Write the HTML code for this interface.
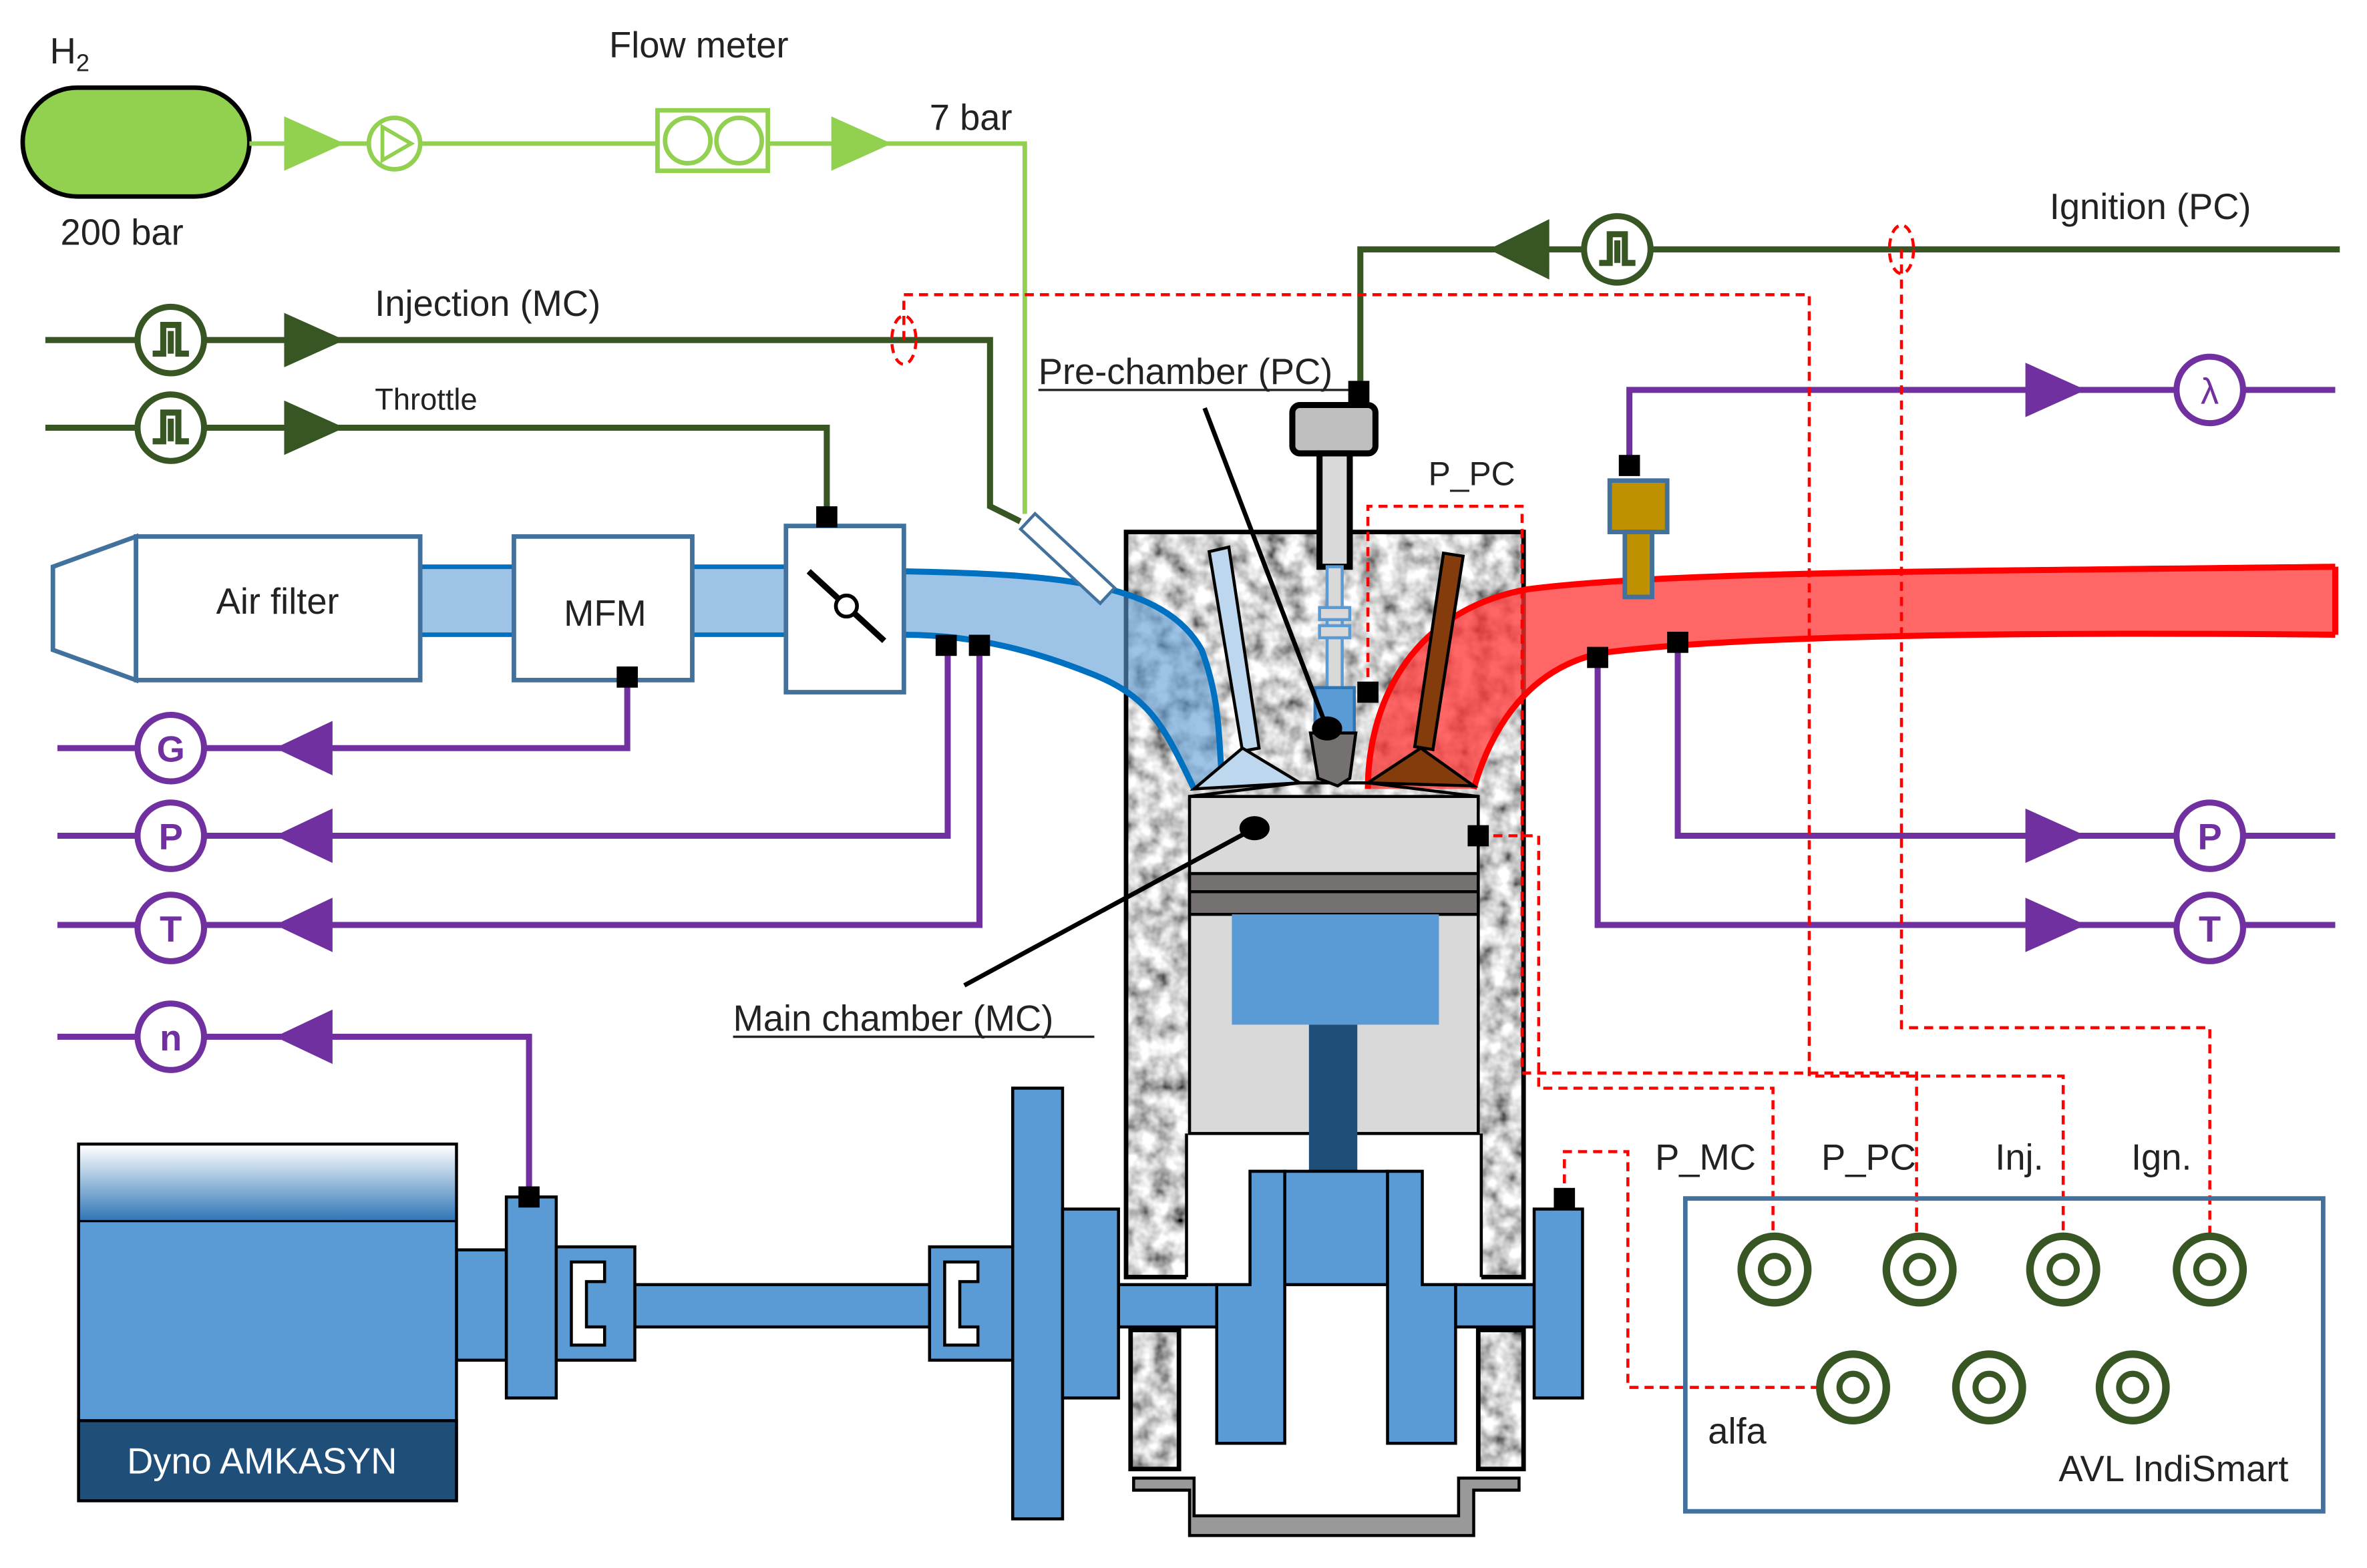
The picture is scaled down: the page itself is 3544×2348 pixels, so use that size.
<!DOCTYPE html>
<html><head><meta charset="utf-8"><style>
html,body{margin:0;padding:0;background:#fff}
svg{display:block}
text{font-family:"Liberation Sans",sans-serif;fill:#222}
</style></head><body>
<svg width="3544" height="2348" viewBox="0 0 1566 1037.5" preserveAspectRatio="none" xmlns="http://www.w3.org/2000/svg">
<defs>
<filter id="n" x="0" y="0" width="1" height="1">
<feTurbulence type="fractalNoise" baseFrequency="0.08" numOctaves="3" seed="3"/>
<feColorMatrix type="matrix" values="1.7 0 0 0 -0.2  1.7 0 0 0 -0.2  1.7 0 0 0 -0.2  0 0 0 0 1"/>
</filter>
<linearGradient id="dg" x1="0" y1="0" x2="0" y2="1"><stop offset="0" stop-color="#fff"/><stop offset="1" stop-color="#2e75b6"/></linearGradient>
<g id="pulse"><circle r="22" fill="#fff" stroke="#375623" stroke-width="4"/><path d="M-12,9 H-5 V-10 H5 V9 H12 M0,-6 V9" fill="none" stroke="#375623" stroke-width="4"/></g>
<g id="avl"><circle r="22" fill="#fff" stroke="#375623" stroke-width="5"/><circle r="9" fill="none" stroke="#375623" stroke-width="4"/></g>
</defs>

<!-- H2 supply -->
<text x="33" y="42" font-size="24">H<tspan font-size="16" dy="5">2</tspan></text>
<rect x="15" y="58" width="150" height="72" rx="36" fill="#92d050" stroke="#000" stroke-width="3"/>
<text x="40" y="162" font-size="24">200 bar</text>
<path d="M165,95 H678 V340" fill="none" stroke="#92d050" stroke-width="3"/>
<polygon points="188,77 228,95 188,113" fill="#92d050"/>
<circle cx="261" cy="95" r="17" fill="#fff" stroke="#92d050" stroke-width="3"/>
<polygon points="253,84 272,95 253,106" fill="none" stroke="#92d050" stroke-width="2.5"/>
<text x="403" y="38" font-size="24">Flow meter</text>
<rect x="435" y="73" width="73" height="40" fill="#fff" stroke="#92d050" stroke-width="3"/>
<circle cx="455" cy="93" r="15" fill="none" stroke="#92d050" stroke-width="3"/>
<circle cx="489" cy="93" r="15" fill="none" stroke="#92d050" stroke-width="3"/>
<polygon points="550,77 590,95 550,113" fill="#92d050"/>
<text x="615" y="86" font-size="24">7 bar</text>

<!-- ignition -->
<path d="M1548,165 H900 V258" fill="none" stroke="#375623" stroke-width="4"/>
<polygon points="1025,145 985,165 1025,185" fill="#375623"/>
<use href="#pulse" x="1070" y="165"/>
<text x="1356" y="145" font-size="24">Ignition (PC)</text>
<!-- injection -->
<path d="M30,225 H655 V335 L675,345" fill="none" stroke="#375623" stroke-width="4"/>
<use href="#pulse" x="113" y="225"/>
<polygon points="188,207 228,225 188,243" fill="#375623"/>
<text x="248" y="209" font-size="24">Injection (MC)</text>
<!-- throttle -->
<path d="M30,283 H547 V340" fill="none" stroke="#375623" stroke-width="4"/>
<use href="#pulse" x="113" y="283"/>
<polygon points="188,265 228,283 188,301" fill="#375623"/>
<text x="248" y="271" font-size="20">Throttle</text>

<!-- purple lines -->
<g fill="none" stroke="#7030a0" stroke-width="4">
<path d="M1078,310 V258 H1545"/>
<path d="M38,495 H415 V448"/>
<path d="M38,553 H627 V427"/>
<path d="M38,612 H648 V427"/>
<path d="M38,686 H350 V792"/>
<path d="M1110,425 V553 H1545"/>
<path d="M1057,435 V612 H1545"/>
</g>
<g fill="#7030a0">
<polygon points="1340,240 1380,258 1340,276"/>
<polygon points="220,477 182,495 220,513"/>
<polygon points="220,535 182,553 220,571"/>
<polygon points="220,594 182,612 220,630"/>
<polygon points="220,668 182,686 220,704"/>
<polygon points="1340,535 1380,553 1340,571"/>
<polygon points="1340,594 1380,612 1340,630"/>
</g>
<g fill="#fff" stroke="#7030a0" stroke-width="4">
<circle cx="1462" cy="258" r="22"/><circle cx="113" cy="495" r="22"/><circle cx="113" cy="553" r="22"/>
<circle cx="113" cy="614" r="22"/><circle cx="113" cy="686" r="22"/><circle cx="1462" cy="553" r="22"/><circle cx="1462" cy="614" r="22"/>
</g>
<g font-size="24" font-weight="bold" text-anchor="middle">
<text x="1462" y="267" style="fill:#7030a0" font-weight="normal">λ</text>
<text x="113" y="504" style="fill:#7030a0">G</text><text x="113" y="562" style="fill:#7030a0">P</text>
<text x="113" y="623" style="fill:#7030a0">T</text><text x="113" y="695" style="fill:#7030a0">n</text>
<text x="1462" y="562" style="fill:#7030a0">P</text><text x="1462" y="623" style="fill:#7030a0">T</text>
</g>

<!-- engine block -->
<rect x="745" y="352" width="263" height="493" filter="url(#n)"/>
<rect x="745" y="352" width="263" height="493" fill="none" stroke="#000" stroke-width="3"/>
<rect x="785" y="750" width="195" height="97" fill="#fff"/>
<path d="M785,845 V750 M980,750 V845" stroke="#000" stroke-width="2"/>
<rect x="748" y="880" width="32" height="92" filter="url(#n)"/>
<rect x="748" y="880" width="32" height="92" fill="none" stroke="#000" stroke-width="3"/>
<rect x="978" y="880" width="30" height="92" filter="url(#n)"/>
<rect x="978" y="880" width="30" height="92" fill="none" stroke="#000" stroke-width="3"/>
<path d="M750,978 H790 V1003 H965 V978 H1005 V986 H975 V1016 H787 V986 H750 Z" fill="#999" stroke="#000" stroke-width="2"/>

<!-- intake ducts -->
<path d="M278,375 H340 V420 H278 Z M458,375 H520 V420 H458 Z" fill="#9dc3e6"/>
<path d="M278,375 H340 M278,420 H340 M458,375 H520 M458,420 H520" stroke="#0070c0" stroke-width="3"/>
<path d="M598,378 C700,380 770,385 795,430 C810,470 805,500 810,522 L790,522 C770,480 760,460 720,445 C670,425 630,420 598,420 Z" fill="#5b9bd5" fill-opacity="0.6"/>
<path d="M598,378 C700,380 770,385 795,430 C810,470 805,500 810,522 M598,420 C630,420 670,425 720,445 C760,460 770,480 790,522" fill="none" stroke="#0070c0" stroke-width="4"/>
<!-- exhaust -->
<path d="M1545,375 C1300,378 1100,378 1010,390 C930,405 905,470 905,522 L975,522 C990,470 1020,440 1060,432 C1150,420 1350,418 1545,420 Z" fill="#ff3333" fill-opacity="0.75"/>
<path d="M1545,375 C1300,378 1100,378 1010,390 C930,405 905,470 905,522 M975,522 C990,470 1020,440 1060,432 C1150,420 1350,418 1545,420 M1545,375 V420" fill="none" stroke="#ff0000" stroke-width="4"/>

<!-- air filter, MFM, throttle -->
<polygon points="35,375 90,355 90,450 35,430" fill="#fff" stroke="#41719c" stroke-width="3"/>
<rect x="90" y="355" width="188" height="95" fill="#fff" stroke="#41719c" stroke-width="3"/>
<text x="143" y="406" font-size="24">Air filter</text>
<rect x="340" y="355" width="118" height="95" fill="#fff" stroke="#41719c" stroke-width="3"/>
<text x="373" y="414" font-size="24">MFM</text>
<rect x="520" y="348" width="78" height="110" fill="#fff" stroke="#41719c" stroke-width="3"/>
<line x1="535" y1="378" x2="585" y2="424" stroke="#000" stroke-width="4"/>
<circle cx="560" cy="401" r="7" fill="#fff" stroke="#000" stroke-width="2.5"/>
<!-- injector -->
<g transform="translate(680,345) rotate(43)"><rect x="0" y="-7" width="72" height="14" fill="#fff" stroke="#41719c" stroke-width="2"/></g>

<!-- piston -->
<rect x="787" y="527" width="191" height="223" fill="#d9d9d9" stroke="#000" stroke-width="2"/>
<rect x="787" y="578" width="191" height="27" fill="#767171" stroke="#000" stroke-width="2"/>
<line x1="787" y1="590" x2="978" y2="590" stroke="#000" stroke-width="2"/>
<rect x="815" y="605" width="137" height="73" fill="#5b9bd5"/>
<rect x="866" y="678" width="32" height="97" fill="#1f4e79"/>
<path d="M787,527 L860,518 H905 L978,527" fill="none" stroke="#000" stroke-width="2"/>

<!-- valves -->
<polygon points="800,365 813,362 833,495 822,497" fill="#bdd7ee" stroke="#000" stroke-width="2"/>
<polygon points="790,522 822,495 860,518" fill="#bdd7ee" stroke="#000" stroke-width="2"/>
<polygon points="955,366 968,368 948,496 936,494" fill="#843c0c" stroke="#000" stroke-width="2"/>
<polygon points="905,518 940,495 975,520" fill="#843c0c" stroke="#000" stroke-width="2"/>
<!-- pre-chamber / plug -->
<rect x="855" y="268" width="55" height="32" rx="5" fill="#bfbfbf" stroke="#000" stroke-width="4"/>
<rect x="873" y="300" width="20" height="75" fill="#d9d9d9" stroke="#000" stroke-width="4"/>
<rect x="878" y="375" width="10" height="80" fill="#d9d9d9" stroke="#5b9bd5" stroke-width="2"/>
<rect x="873" y="402" width="20" height="8" fill="#d9d9d9" stroke="#5b9bd5" stroke-width="2"/>
<rect x="873" y="414" width="20" height="8" fill="#d9d9d9" stroke="#5b9bd5" stroke-width="2"/>
<rect x="870" y="455" width="26" height="30" fill="#5b9bd5" stroke="#2e75b6" stroke-width="2"/>
<polygon points="867,485 897,485 893,515 885,520 872,515" fill="#767171" stroke="#000" stroke-width="2"/>

<!-- leaders -->
<line x1="797" y1="270" x2="878" y2="482" stroke="#000" stroke-width="3"/>
<ellipse cx="878" cy="482" rx="10" ry="8"/>
<line x1="638" y1="652" x2="830" y2="548" stroke="#000" stroke-width="3"/>
<ellipse cx="830" cy="548" rx="10" ry="8"/>
<text x="687" y="254" font-size="24">Pre-chamber (PC)</text>
<line x1="687" y1="258" x2="893" y2="258" stroke="#222" stroke-width="1.5"/>
<text x="485" y="682" font-size="24">Main chamber (MC)</text>
<line x1="485" y1="686" x2="724" y2="686" stroke="#222" stroke-width="1.5"/>
<text x="945" y="321" font-size="22">P_PC</text>

<!-- crank train -->
<g fill="#5b9bd5" stroke="#000" stroke-width="2">
<rect x="420" y="850" width="195" height="28"/>
<rect x="740" y="850" width="65" height="28"/>
<rect x="963" y="850" width="52" height="28"/>
<rect x="850" y="775" width="68" height="75"/>
<path d="M827,775 H850 V955 H805 V850 H827 Z"/>
<path d="M918,775 H941 V850 H963 V955 H918 Z"/>
<rect x="302" y="827" width="33" height="73"/>
<rect x="335" y="792" width="33" height="133"/>
<rect x="368" y="825" width="52" height="75"/>
<rect x="615" y="825" width="55" height="75"/>
<rect x="670" y="720" width="33" height="285"/>
<rect x="703" y="800" width="37" height="125"/>
<rect x="1015" y="800" width="32" height="125"/>
</g>
<path d="M378,835 H400 V848 H388 V878 H400 V890 H378 Z M625,835 H647 V848 H635 V878 H647 V890 H625 Z" fill="#fff" stroke="#000" stroke-width="2"/>

<!-- dyno -->
<rect x="52" y="757" width="250" height="236" fill="#5b9bd5" stroke="#000" stroke-width="2"/>
<rect x="53" y="758" width="248" height="50" fill="url(#dg)"/>
<line x1="52" y1="808" x2="302" y2="808" stroke="#000" stroke-width="1.5"/>
<rect x="52" y="940" width="250" height="53" fill="#1f4e79" stroke="#000" stroke-width="2"/>
<text x="84" y="975" font-size="24" style="fill:#fff">Dyno AMKASYN</text>

<!-- red dashed signals -->
<g fill="none" stroke="#ff0000" stroke-width="2" stroke-dasharray="6,4">
<path d="M905,458 V335 H1007 V710 H1268 V830"/>
<path d="M978,553 H1018 V720 H1173 V830"/>
<path d="M598,225 V195 H1197 V712 H1365 V830"/>
<path d="M1258,165 V680 H1462 V830"/>
<path d="M1035,793 V762 H1077 V918 H1215"/>
<ellipse cx="598" cy="225" rx="8" ry="16"/>
<ellipse cx="1258" cy="165" rx="8" ry="16"/>
</g>

<!-- black sensor squares -->
<g fill="#000">
<rect x="892" y="252" width="14" height="14"/>
<rect x="540" y="335" width="14" height="14"/>
<rect x="1071" y="301" width="14" height="14"/>
<rect x="408" y="441" width="14" height="14"/>
<rect x="619" y="420" width="14" height="14"/>
<rect x="641" y="420" width="14" height="14"/>
<rect x="898" y="451" width="14" height="14"/>
<rect x="971" y="546" width="14" height="14"/>
<rect x="1050" y="428" width="14" height="14"/>
<rect x="1103" y="418" width="14" height="14"/>
<rect x="343" y="785" width="14" height="14"/>
<rect x="1028" y="786" width="14" height="14"/>
</g>
<!-- lambda sensor -->
<rect x="1065" y="318" width="38" height="34" fill="#bf9000" stroke="#41719c" stroke-width="3"/>
<rect x="1075" y="352" width="18" height="43" fill="#bf9000" stroke="#41719c" stroke-width="3"/>

<!-- AVL -->
<rect x="1115" y="793" width="422" height="207" fill="none" stroke="#41719c" stroke-width="3"/>
<use href="#avl" x="1174" y="840"/><use href="#avl" x="1270" y="840"/><use href="#avl" x="1365" y="840"/><use href="#avl" x="1462" y="840"/>
<use href="#avl" x="1226" y="918"/><use href="#avl" x="1316" y="918"/><use href="#avl" x="1411" y="918"/>
<text x="1095" y="774" font-size="24">P_MC</text>
<text x="1205" y="774" font-size="24">P_PC</text>
<text x="1320" y="774" font-size="24">Inj.</text>
<text x="1410" y="774" font-size="24">Ign.</text>
<text x="1130" y="955" font-size="24">alfa</text>
<text x="1362" y="980" font-size="24">AVL IndiSmart</text>
</svg>
</body></html>
